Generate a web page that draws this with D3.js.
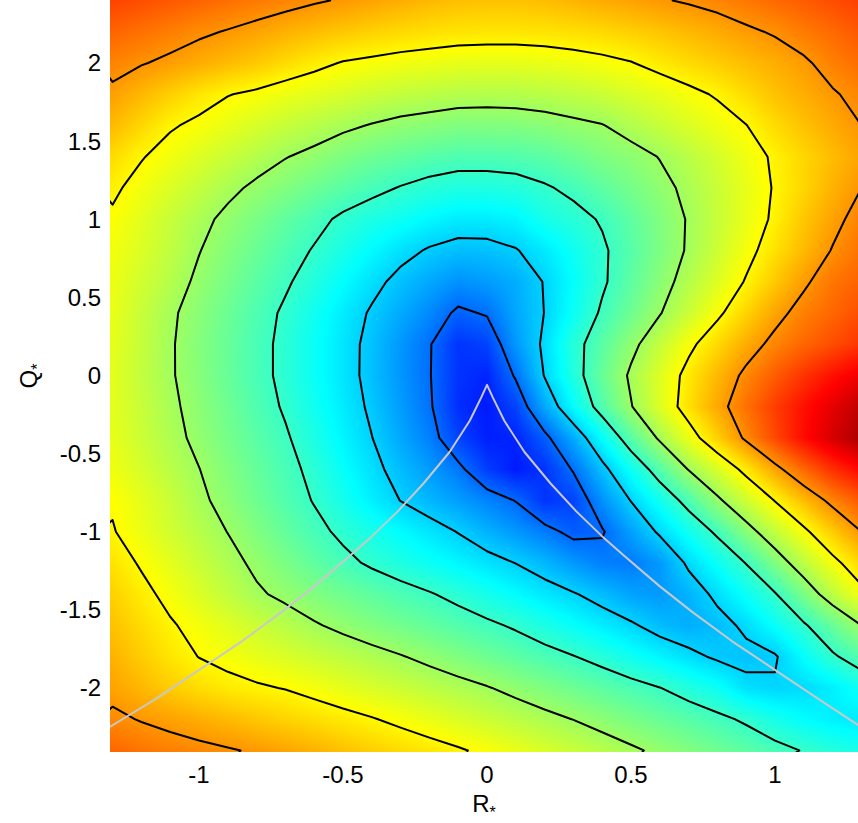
<!DOCTYPE html>
<html><head><meta charset="utf-8">
<script src="https://cdn.jsdelivr.net/npm/d3@7"></script>
<style>
body{margin:0;background:#fff}
svg{display:block}
text{font-family:"Liberation Sans",Arial,Helvetica,sans-serif;fill:#000}
</style>
</head><body>
<svg id="chart" width="858" height="823"></svg>
<script>
// ---------------- data ----------------
const gridR = [-1.3,-1.2,-1.1,-1.0,-0.9,-0.8,-0.7,-0.6,-0.5,-0.4,-0.3,-0.2,-0.1,0,0.1,0.2,0.3,0.4,0.5,0.6,0.7,0.8,0.9,1.0,1.1,1.2,1.3];
const gridQ = [2.4,2.2,2.0,1.8,1.6,1.4,1.2,1.0,0.8,0.6,0.4,0.2,0,-0.2,-0.4,-0.6,-0.8,-1.0,-1.2,-1.4,-1.6,-1.8,-2.0,-2.2,-2.4];
// field level (rows follow gridQ, columns follow gridR)
const field = [
[6.8,6.69,6.59,6.48,6.37,6.26,6.16,6.05,5.96,5.85,5.75,5.65,5.58,5.55,5.55,5.6,5.68,5.77,5.86,5.96,6.05,6.15,6.28,6.42,6.56,6.7,6.85],
[6.48,6.35,6.22,6.08,5.97,5.85,5.72,5.6,5.5,5.4,5.32,5.26,5.22,5.2,5.2,5.22,5.27,5.33,5.42,5.52,5.64,5.77,5.92,6.05,6.25,6.42,6.6],
[6.17,6.03,5.9,5.76,5.62,5.48,5.3,5.13,4.97,4.9,4.83,4.78,4.72,4.71,4.71,4.75,4.8,4.88,4.98,5.15,5.3,5.45,5.6,5.75,5.92,6.2,6.4],
[5.89,5.65,5.42,5.2,5.02,4.91,4.77,4.67,4.57,4.44,4.35,4.29,4.23,4.21,4.22,4.27,4.33,4.43,4.57,4.71,4.88,5.05,5.3,5.55,5.75,5.95,6.15],
[5.62,5.35,5.05,4.9,4.73,4.56,4.4,4.25,4.1,3.97,3.86,3.79,3.71,3.71,3.73,3.79,3.89,3.98,4.19,4.39,4.59,4.79,4.99,5.3,5.55,5.78,6.0],
[5.3,5.03,4.82,4.62,4.42,4.22,4.02,3.87,3.68,3.53,3.41,3.3,3.22,3.22,3.25,3.34,3.5,3.68,3.82,4.02,4.27,4.53,4.8,5.07,5.35,5.6,5.85],
[5.08,4.84,4.6,4.36,4.12,3.9,3.72,3.52,3.33,3.14,2.97,2.83,2.74,2.74,2.79,2.94,3.12,3.36,3.6,3.85,4.12,4.42,4.72,5.04,5.35,5.7,6.0],
[4.93,4.67,4.4,4.14,3.88,3.64,3.4,3.16,2.9,2.72,2.57,2.39,2.27,2.27,2.36,2.65,2.83,3.05,3.38,3.7,4.04,4.4,4.74,5.08,5.5,5.85,6.2],
[4.83,4.6,4.33,4.02,3.74,3.48,3.22,2.96,2.69,2.42,2.16,1.95,1.82,1.84,1.97,2.24,2.57,2.92,3.29,3.67,4.06,4.45,4.85,5.24,5.63,6.03,6.35],
[4.77,4.5,4.23,3.9,3.62,3.34,3.07,2.77,2.46,2.15,1.85,1.6,1.38,1.48,1.65,2.03,2.47,2.92,3.36,3.79,4.21,4.62,5.04,5.48,5.91,6.3,6.5],
[4.73,4.4,4.08,3.79,3.5,3.21,2.92,2.6,2.27,1.94,1.62,1.3,0.9,1.05,1.59,2.01,2.54,3.08,3.52,3.97,4.43,4.9,5.37,5.83,6.2,6.45,6.7],
[4.7,4.38,4.05,3.75,3.46,3.17,2.87,2.54,2.21,1.85,1.44,1.04,0.45,0.6,1.44,2.11,2.8,3.33,3.85,4.37,4.88,5.32,5.76,6.15,6.45,6.7,6.95],
[4.67,4.36,4.05,3.76,3.46,3.17,2.87,2.54,2.21,1.84,1.43,1.03,0.45,0.3,1.07,2.03,2.76,3.45,4.09,4.63,5.16,5.64,6.12,6.55,6.95,7.3,7.6],
[4.68,4.4,4.1,3.82,3.53,3.23,2.94,2.6,2.27,1.91,1.49,1.07,0.4,0.2,0.6,1.6,2.45,3.25,3.97,4.62,5.24,5.8,6.35,6.85,7.3,7.7,8.1],
[4.72,4.44,4.16,3.88,3.6,3.33,3.06,2.72,2.36,2.01,1.6,1.21,0.6,0.25,0.3,0.85,1.63,2.47,3.32,4.09,4.75,5.4,6.1,6.75,7.35,7.85,8.3],
[4.8,4.55,4.28,4.01,3.72,3.44,3.17,2.86,2.5,2.15,1.8,1.47,1.13,0.55,0.2,0.45,1.05,1.84,2.56,3.28,4.03,4.57,5.16,5.84,6.45,7.0,7.4],
[4.95,4.7,4.42,4.11,3.82,3.53,3.25,2.97,2.64,2.31,1.99,1.75,1.5,1.25,0.98,0.45,0.6,1.37,2.02,2.6,3.2,3.9,4.47,5.02,5.6,6.15,6.6],
[5.03,4.77,4.5,4.25,3.99,3.71,3.43,3.15,2.89,2.66,2.43,2.21,1.98,1.7,1.44,1.17,0.85,0.95,1.52,2.09,2.59,3.1,3.78,4.36,4.89,5.45,6.0],
[5.22,4.95,4.69,4.42,4.16,3.9,3.65,3.39,3.14,2.92,2.73,2.55,2.37,2.18,1.99,1.75,1.45,1.2,1.15,1.45,2.1,2.54,3.02,3.7,4.31,4.85,5.35],
[5.4,5.13,4.87,4.6,4.34,4.07,3.89,3.71,3.54,3.37,3.2,3.04,2.85,2.64,2.44,2.23,2.04,1.8,1.55,1.45,1.7,2.13,2.54,2.96,3.65,4.3,4.85],
[5.55,5.3,5.05,4.85,4.65,4.44,4.25,4.05,3.88,3.72,3.57,3.42,3.26,3.1,2.93,2.71,2.5,2.28,2.07,1.8,1.65,1.8,2.11,2.52,2.93,3.45,4.0],
[5.7,5.45,5.2,4.99,4.86,4.72,4.59,4.45,4.31,4.17,4.03,3.87,3.7,3.53,3.36,3.19,3.02,2.82,2.59,2.36,2.14,1.92,1.85,1.95,2.47,2.92,3.3],
[5.85,5.65,5.45,5.28,5.15,5.06,4.98,4.85,4.71,4.57,4.44,4.3,4.17,4.03,3.86,3.69,3.52,3.35,3.18,3.01,2.78,2.56,2.15,2.05,2.1,2.3,2.6],
[6.1,5.97,5.86,5.74,5.62,5.5,5.38,5.27,5.15,5.03,4.89,4.74,4.59,4.44,4.29,4.14,3.99,3.82,3.64,3.47,3.3,3.12,2.92,2.65,2.45,2.3,2.25],
[6.45,6.3,6.2,6.12,6.04,5.95,5.83,5.7,5.56,5.43,5.3,5.18,5.05,4.9,4.74,4.57,4.41,4.25,4.08,3.9,3.72,3.54,3.35,3.16,2.97,2.8,2.65]
];
const contourLevels = [1, 2, 3, 4, 5, 6];
const colorLimits = [-1.3, 8.7];
// grey reference curve
const curveR = [-1.31,-1.15,-0.98,-0.85,-0.71,-0.6,-0.48,-0.4,-0.31,-0.22,-0.13,-0.06,-0.02,0,0.02,0.06,0.13,0.22,0.31,0.4,0.48,0.6,0.71,0.85,0.98,1.15,1.29];
const curveQ = [-2.25,-2.07,-1.86,-1.70,-1.51,-1.35,-1.16,-1.03,-0.87,-0.69,-0.49,-0.29,-0.14,-0.06,-0.14,-0.29,-0.49,-0.69,-0.87,-1.03,-1.16,-1.35,-1.51,-1.70,-1.86,-2.07,-2.24];
const xTicks = [-1, -0.5, 0, 0.5, 1];
const yTicks = [-2, -1.5, -1, -0.5, 0, 0.5, 1, 1.5, 2];

// ---------------- layout ----------------
const plot = {left: 110, top: 0, width: 748, height: 752};
const x = d3.scaleLinear().domain([-1.309, 1.288]).range([plot.left, plot.left + plot.width]);
const y = d3.scaleLinear().domain([-2.41, 2.403]).range([plot.top + plot.height, plot.top]);

function jet(t) {
  const c = v => Math.max(0, Math.min(1, v));
  return [c(1.5 - Math.abs(4 * t - 3)), c(1.5 - Math.abs(4 * t - 2)), c(1.5 - Math.abs(4 * t - 1))];
}
const tScale = d3.scaleLinear().domain(colorLimits).range([0, 1]).clamp(true);

const svg = d3.select('#chart');
svg.append('defs').append('clipPath').attr('id', 'plotclip')
  .append('rect').attr('x', plot.left).attr('y', plot.top).attr('width', plot.width).attr('height', plot.height);

// ---------------- heat map (bilinear shading) ----------------
const nC = gridR.length, nRw = gridQ.length;
const dR = gridR[1] - gridR[0], dQ = gridQ[0] - gridQ[1];
function sample(R, Q) {
  let fi = (R - gridR[0]) / dR, fj = (gridQ[0] - Q) / dQ;
  fi = Math.max(0, Math.min(nC - 1, fi));
  fj = Math.max(0, Math.min(nRw - 1, fj));
  const i0 = Math.min(nC - 2, Math.floor(fi)), j0 = Math.min(nRw - 2, Math.floor(fj));
  const a = fi - i0, b = fj - j0;
  const v00 = field[j0][i0], v10 = field[j0][i0 + 1], v01 = field[j0 + 1][i0], v11 = field[j0 + 1][i0 + 1];
  return (v00 * (1 - a) + v10 * a) * (1 - b) + (v01 * (1 - a) + v11 * a) * b;
}
const canvas = document.createElement('canvas');
canvas.width = plot.width; canvas.height = plot.height;
const ctx = canvas.getContext('2d');
const img = ctx.createImageData(plot.width, plot.height);
for (let py = 0; py < plot.height; py++) {
  const Q = y.invert(plot.top + py + 0.5);
  for (let px = 0; px < plot.width; px++) {
    const R = x.invert(plot.left + px + 0.5);
    const col = jet(tScale(sample(R, Q)));
    const k = 4 * (py * plot.width + px);
    img.data[k] = Math.round(col[0] * 255);
    img.data[k + 1] = Math.round(col[1] * 255);
    img.data[k + 2] = Math.round(col[2] * 255);
    img.data[k + 3] = 255;
  }
}
ctx.putImageData(img, 0, 0);
svg.append('image')
  .attr('x', plot.left).attr('y', plot.top)
  .attr('width', plot.width).attr('height', plot.height)
  .attr('preserveAspectRatio', 'none')
  .attr('href', canvas.toDataURL());

// ---------------- contour lines ----------------
const contours = d3.contours().size([nC, nRw]).thresholds(contourLevels)(field.flat());
const gridToScreen = d3.geoTransform({
  point(gx, gy) {
    const R = gridR[0] + (gx - 0.5) * dR;
    const Q = gridQ[0] - (gy - 0.5) * dQ;
    this.stream.point(x(R), y(Q));
  }
});
const cpath = d3.geoPath(gridToScreen);
const gPlot = svg.append('g').attr('clip-path', 'url(#plotclip)');
gPlot.selectAll('path.contour').data(contours).join('path')
  .attr('class', 'contour')
  .attr('d', cpath)
  .attr('fill', 'none')
  .attr('stroke', '#000')
  .attr('stroke-width', 2)
  .attr('stroke-linejoin', 'round');

// ---------------- grey curve ----------------
const curvePts = curveR.map((r, i) => [r, curveQ[i]]);
gPlot.append('path')
  .datum(curvePts)
  .attr('d', d3.line().x(d => x(d[0])).y(d => y(d[1])))
  .attr('fill', 'none')
  .attr('stroke', '#c8c8c8')
  .attr('stroke-width', 2)
  .attr('stroke-linejoin', 'round');

// ---------------- axes (labels only) ----------------
const fmt = d => (d < 0 ? '-' : '') + String(Math.abs(d));
svg.append('g').selectAll('text').data(xTicks).join('text')
  .attr('x', d => x(d)).attr('y', plot.top + plot.height + 31)
  .attr('text-anchor', 'middle').style('font-size', '24px')
  .text(fmt);
svg.append('g').selectAll('text').data(yTicks).join('text')
  .attr('x', plot.left - 9).attr('y', d => y(d) + 8.5)
  .attr('text-anchor', 'end').style('font-size', '24px')
  .text(fmt);

const xl = svg.append('text')
  .attr('x', plot.left + plot.width / 2).attr('y', 812)
  .attr('text-anchor', 'middle').style('font-size', '24px');
xl.append('tspan').text('R');
xl.append('tspan').attr('dy', 6).style('font-size', '16px').text('*');

const yl = svg.append('text')
  .attr('transform', `translate(37,${plot.top + plot.height / 2}) rotate(-90)`)
  .attr('text-anchor', 'middle').style('font-size', '24px');
yl.append('tspan').text('Q');
yl.append('tspan').attr('dy', 6).style('font-size', '16px').text('*');
</script>
</body></html>
